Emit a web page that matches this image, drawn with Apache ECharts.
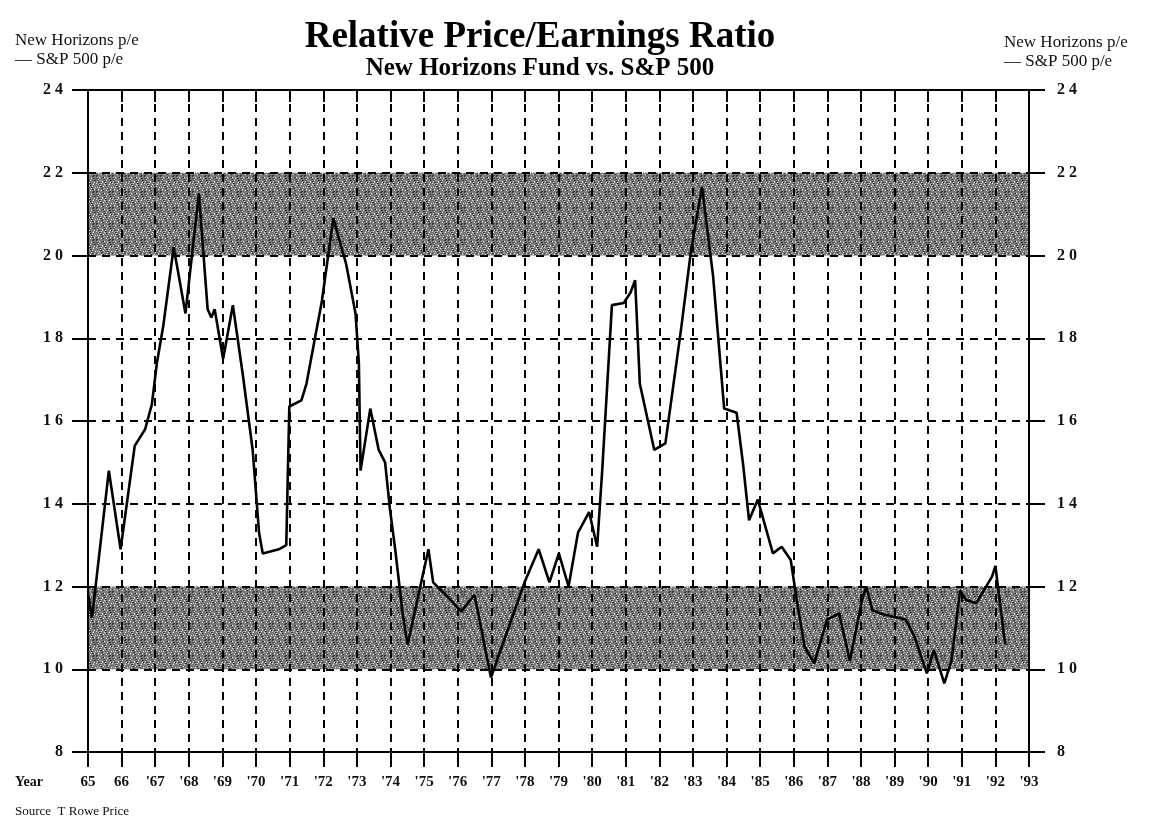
<!DOCTYPE html>
<html>
<head>
<meta charset="utf-8">
<script src="https://cdn.jsdelivr.net/npm/echarts@6/dist/echarts.min.js"></script>
<style>
html,body{margin:0;padding:0;background:#fff;}
#chart{width:1162px;height:822px;}
</style>
</head>
<body>
<div id="chart"></div>
<script>
// ---- data ----
const years = [1965.0, 1965.12, 1965.62, 1965.97, 1966.39, 1966.7, 1966.9, 1967.05, 1967.24, 1967.55, 1967.9, 1968.3, 1968.56, 1968.67, 1968.77, 1969.02, 1969.31, 1969.61, 1969.9, 1970.09, 1970.2, 1970.68, 1970.9, 1970.99, 1971.35, 1971.5, 1971.96, 1972.3, 1972.68, 1972.96, 1973.06, 1973.11, 1973.4, 1973.65, 1973.84, 1973.98, 1974.14, 1974.37, 1974.51, 1975.13, 1975.27, 1975.64, 1976.11, 1976.5, 1976.99, 1977.99, 1978.41, 1978.73, 1979.01, 1979.3, 1979.58, 1979.91, 1980.15, 1980.3, 1980.59, 1980.94, 1981.14, 1981.28, 1981.42, 1981.85, 1982.18, 1982.66, 1982.94, 1983.27, 1983.6, 1983.93, 1984.3, 1984.5, 1984.67, 1984.93, 1985.38, 1985.64, 1985.91, 1986.09, 1986.32, 1986.61, 1986.99, 1987.35, 1987.67, 1988.03, 1988.16, 1988.34, 1988.57, 1988.97, 1989.33, 1989.59, 1989.96, 1990.17, 1990.48, 1990.69, 1990.95, 1991.14, 1991.43, 1991.9, 1992.0, 1992.29];
const relPE = [11.8, 11.25, 14.8, 12.9, 15.4, 15.8, 16.4, 17.4, 18.3, 20.2, 18.6, 21.5, 18.7, 18.5, 18.7, 17.5, 18.8, 17.1, 15.3, 13.3, 12.8, 12.9, 13.0, 16.35, 16.5, 16.9, 18.9, 20.9, 19.8, 18.6, 17.4, 14.8, 16.3, 15.3, 15.0, 13.9, 12.9, 11.3, 10.6, 12.9, 12.1, 11.8, 11.4, 11.8, 9.8, 12.1, 12.9, 12.1, 12.8, 12.0, 13.3, 13.8, 12.96, 14.8, 18.8, 18.85, 19.1, 19.4, 16.9, 15.3, 15.46, 18.3, 20.1, 21.66, 19.5, 16.3, 16.2, 14.9, 13.6, 14.1, 12.8, 12.96, 12.64, 11.67, 10.55, 10.14, 11.2, 11.35, 10.2, 11.67, 12.0, 11.43, 11.35, 11.27, 11.2, 10.8, 9.9, 10.47, 9.66, 10.2, 11.9, 11.67, 11.6, 12.24, 12.5, 10.6];
const xTickLabels = ['65', '66', "'67", "'68", "'69", "'70", "'71", "'72", "'73", "'74", "'75", "'76", "'77", "'78", "'79", "'80", "'81", "'82", "'83", "'84", "'85", "'86", "'87", "'88", "'89", "'90", "'91", "'92", "'93"];
const yTickValues = [8, 10, 12, 14, 16, 18, 20, 22, 24];
const yTickLabels = ['8', '1 0', '1 2', '1 4', '1 6', '1 8', '2 0', '2 2', '2 4'];
const bandLow = [10, 12];
const bandHigh = [20, 22];
const xStart = 1965, xEnd = 1993;

// ---- texture for the shaded bands ----
function makePattern() {
  const c = document.createElement('canvas');
  c.width = 16; c.height = 16;
  const g = c.getContext('2d');
  g.fillStyle = '#6c6c6c';
  g.fillRect(0, 0, 16, 16);
  for (let i = 0; i < 16; i++) {
    for (let j = 0; j < 16; j++) {
      const a = (i * 7 + j * 3) % 13, b = (i * 5 + j * 11) % 17;
      if (a === 0 || a === 6) {
        g.fillStyle = '#262626';
        g.fillRect(i, j, 1, 1);
      } else if (b === 0 || b === 9) {
        g.fillStyle = '#e6e6e6';
        g.fillRect(i, j, 1, 1);
      } else if ((i + j) % 2 === 0 && (i * j) % 5 === 1) {
        g.fillStyle = '#a0a0a0';
        g.fillRect(i, j, 1, 1);
      }
    }
  }
  return c;
}

const serif = '"Liberation Serif", "DejaVu Serif", serif';
const chart = echarts.init(document.getElementById('chart'));
const pattern = { image: makePattern(), repeat: 'repeat' };
const lineData = years.map((y, i) => [y, relPE[i]]);
const yLab = v => { const k = yTickValues.indexOf(v); return k >= 0 ? yTickLabels[k] : ''; };
const dashed = { show: true, lineStyle: { color: '#000', width: 2, type: [8, 6] } };

chart.setOption({
  backgroundColor: '#fff',
  animation: false,
  title: {
    text: 'Relative Price/Earnings Ratio',
    subtext: 'New Horizons Fund vs. S&P 500',
    left: 535, top: 14, textAlign: 'center', itemGap: 0,
    textStyle: { fontFamily: serif, fontSize: 37, fontWeight: 'bold', color: '#000' },
    subtextStyle: { fontFamily: serif, fontSize: 25, fontWeight: 'bold', color: '#000' }
  },
  grid: { left: 88, right: 133, top: 90, bottom: 70, containLabel: false, z: 0 },
  xAxis: [{
    type: 'value', min: xStart, max: xEnd, interval: 1, position: 'bottom', z: 3,
    axisLine: { show: true, lineStyle: { color: '#000', width: 2 } },
    axisTick: { show: true, length: 15, lineStyle: { color: '#000', width: 2 } },
    axisLabel: { margin: 23, fontFamily: serif, fontSize: 15, fontWeight: 'bold', color: '#111',
      formatter: v => xTickLabels[Math.round(v - xStart)] || '' },
    splitLine: dashed
  }, {
    type: 'value', min: xStart, max: xEnd, interval: 1, position: 'top', z: 3,
    axisLine: { show: true, lineStyle: { color: '#000', width: 2 } },
    axisTick: { show: true, inside: true, length: 12, lineStyle: { color: '#000', width: 2 } },
    axisLabel: { show: false }, splitLine: { show: false }
  }],
  yAxis: [{
    type: 'value', min: 8, max: 24, interval: 2, position: 'left', z: 3,
    axisLine: { show: true, lineStyle: { color: '#000', width: 2 } },
    axisTick: { show: true, length: 16, lineStyle: { color: '#000', width: 2 } },
    axisLabel: { margin: 25, fontFamily: serif, fontSize: 16, fontWeight: 'bold', color: '#111', formatter: yLab },
    splitLine: dashed
  }, {
    type: 'value', min: 8, max: 24, interval: 2, position: 'right', z: 3,
    axisLine: { show: true, lineStyle: { color: '#000', width: 2 } },
    axisTick: { show: true, length: 16, lineStyle: { color: '#000', width: 2 } },
    axisLabel: { margin: 28, fontFamily: serif, fontSize: 16, fontWeight: 'bold', color: '#111', formatter: yLab },
    splitLine: { show: false }
  }],
  series: [{
    name: 'bands', type: 'line', data: [], z: 1, silent: true,
    markArea: {
      silent: true,
      itemStyle: { color: pattern, opacity: 0.9 },
      data: [
        [{ xAxis: xStart, yAxis: bandHigh[0] }, { xAxis: xEnd, yAxis: bandHigh[1] }],
        [{ xAxis: xStart, yAxis: bandLow[0] }, { xAxis: xEnd, yAxis: bandLow[1] }]
      ]
    }
  }, {
    name: 'Relative P/E', type: 'line', data: lineData, z: 5,
    showSymbol: false, symbol: 'none',
    lineStyle: { color: '#000', width: 2.6 }
  }],
  graphic: [
    { type: 'text', left: 15, top: 32, style: { text: 'New Horizons p/e', font: '17px ' + serif, fill: '#111' } },
    { type: 'text', left: 15, top: 51, style: { text: '— S&P 500 p/e', font: '17px ' + serif, fill: '#111' } },
    { type: 'text', left: 1004, top: 34, style: { text: 'New Horizons p/e', font: '17px ' + serif, fill: '#111' } },
    { type: 'text', left: 1004, top: 53, style: { text: '— S&P 500 p/e', font: '17px ' + serif, fill: '#111' } },
    { type: 'text', left: 15, top: 775, style: { text: 'Year', font: 'bold 14px ' + serif, fill: '#111' } },
    { type: 'text', left: 15, top: 805, style: { text: 'Source  T Rowe Price', font: '13px ' + serif, fill: '#111' } }
  ]
});
</script>
</body>
</html>
